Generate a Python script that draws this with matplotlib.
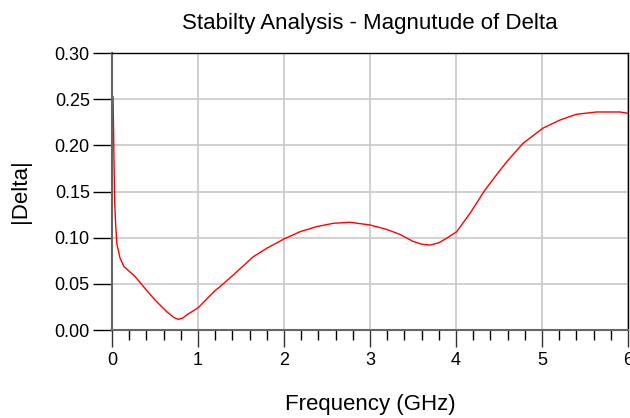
import matplotlib
matplotlib.use("Agg")
import matplotlib.pyplot as plt
from matplotlib.ticker import MultipleLocator

plt.rcParams["font.family"] = ["Liberation Sans", "DejaVu Sans"]

# |Delta| vs frequency
freq_ghz = [0.0, 0.012, 0.03, 0.04, 0.055, 0.093, 0.14, 0.27, 0.38, 0.5, 0.636,
            0.72, 0.77, 0.82, 0.868, 1.003, 1.197, 1.256, 1.41, 1.643, 1.798,
            2.0, 2.186, 2.38, 2.573, 2.767, 3.0, 3.194, 3.35, 3.5, 3.60, 3.70,
            3.80, 3.89, 4.008, 4.16, 4.337, 4.47, 4.59, 4.78, 5.008, 5.21, 5.40,
            5.635, 5.907, 6.0]
delta_mag = [0.253, 0.253, 0.141, 0.119, 0.094, 0.078, 0.0686, 0.0578, 0.0455,
             0.0325, 0.0199, 0.0135, 0.0116, 0.0128, 0.0163, 0.0242, 0.0426,
             0.047, 0.0596, 0.0794, 0.0885, 0.0986, 0.1065, 0.112, 0.1156,
             0.1167, 0.1138, 0.109, 0.1035, 0.0960, 0.0930, 0.0920, 0.0945,
             0.0993, 0.1065, 0.126, 0.1517, 0.168, 0.1823, 0.2023, 0.2185,
             0.2275, 0.2337, 0.2362, 0.2362, 0.2348]

TITLE = "Stabilty Analysis - Magnutude of Delta"
XLABEL = "Frequency (GHz)"
YLABEL = "|Delta|"

fig = plt.figure(figsize=(6.3, 4.18), dpi=100)
ax = fig.add_axes([0.1778, 0.2105, 0.819, 0.6625])

ax.plot(freq_ghz, delta_mag, color="red", linewidth=1.0)

ax.set_xlim(0, 6)
ax.set_ylim(0, 0.30)
ax.xaxis.set_major_locator(MultipleLocator(1))
ax.xaxis.set_minor_locator(MultipleLocator(0.2))
ax.yaxis.set_major_locator(MultipleLocator(0.05))
ax.yaxis.set_major_formatter(plt.FormatStrFormatter("%.2f"))

ax.grid(True, which="major", color="#c8c8c8", linewidth=1.2)
ax.set_axisbelow(True)

for side in ("top", "right"):
    ax.spines[side].set_color("black")
    ax.spines[side].set_linewidth(1.0)
for side in ("left", "bottom"):
    ax.spines[side].set_color("#666666")
    ax.spines[side].set_linewidth(1.5)

ax.tick_params(axis="y", which="major", direction="out", length=14, width=1.0,
               color="black", labelsize=13, pad=2)
ax.tick_params(axis="x", which="major", direction="out", length=12, width=1.0,
               color="#333333", labelsize=13, pad=4)
ax.tick_params(axis="x", which="minor", direction="out", length=7, width=1.0,
               color="black")

ax.set_title(TITLE, fontsize=16, pad=17)
ax.set_xlabel(XLABEL, fontsize=16, labelpad=18)
ax.set_ylabel(YLABEL, fontsize=16, labelpad=17)

fig.savefig("out.png", dpi=100)
